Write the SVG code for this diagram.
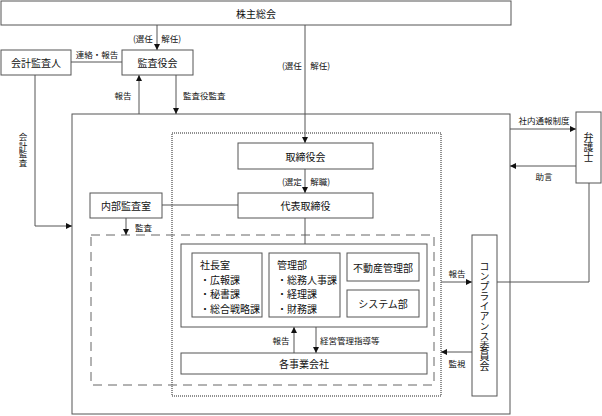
<svg xmlns="http://www.w3.org/2000/svg" width="602" height="416" viewBox="0 0 602 416">
<defs>
<marker id="ah" markerUnits="userSpaceOnUse" markerWidth="7" markerHeight="7" refX="6" refY="3" orient="auto">
<path d="M0,0 L6,3 L0,6 z" fill="#111"/>
</marker>
<style>
.box{fill:#fff;stroke:#555;stroke-width:1}
.frame{fill:none;stroke:#555;stroke-width:1}
.dot{fill:none;stroke:#222;stroke-width:1;stroke-dasharray:1 1}
.dash{fill:none;stroke:#666;stroke-width:1;stroke-dasharray:9 6}
.ln{fill:none;stroke:#555;stroke-width:1}
.arr{fill:none;stroke:#555;stroke-width:1;marker-end:url(#ah)}
text{font-family:"Noto Sans CJK JP","Noto Sans CJK SC",sans-serif;fill:#111}
.t{font-size:10px;text-anchor:middle;dominant-baseline:central}
.tl{font-size:10px;dominant-baseline:central}
.lb{font-size:8.5px;dominant-baseline:central}
.lbm{font-size:8.5px;text-anchor:middle;dominant-baseline:central}
.v{writing-mode:vertical-rl;text-anchor:middle}
</style>
</defs>
<rect width="602" height="416" fill="#fff"/>
<g id="frames">
<rect class="frame" x="72" y="114" width="438" height="300"/>
<rect class="dot" x="172" y="133" width="269" height="263"/>
<rect class="dash" x="91" y="235" width="343" height="150"/>
</g>
<g id="connectors">
<path class="arr" d="M157,25 V50"/>
<path class="arr" d="M305,25 V143"/>
<path class="ln" d="M71,62 H122"/>
<path class="arr" d="M35,75 V226 H72"/>
<path class="arr" d="M139,114 V75"/>
<path class="arr" d="M176,75 V114"/>
<path class="arr" d="M305,169 V193"/>
<path class="ln" d="M162,205 H238"/>
<path class="arr" d="M126,218 V235"/>
<path class="ln" d="M305,218 V244"/>
<path class="arr" d="M294,353 V327"/>
<path class="arr" d="M316,327 V353"/>
<path class="arr" d="M441,282 H472"/>
<path class="arr" d="M472,352 H441"/>
<path class="ln" d="M497,282 H589 V183"/>
<path class="arr" d="M510,129 H576"/>
<path class="arr" d="M576,166 H510"/>
</g>
<g id="labels">
<text class="lbm" x="157" y="38">(選任　解任)</text>
<text class="lbm" x="97" y="54">連絡・報告</text>
<text class="lbm" x="123" y="95">報告</text>
<text class="lb" x="183" y="95">監査役監査</text>
<text class="lb v" x="23" y="150">会計監査</text>
<text class="lbm" x="306" y="65">(選任　解任)</text>
<text class="lbm" x="306" y="181">(選定　解職)</text>
<text class="lb" x="135" y="227">監査</text>
<text class="lbm" x="281" y="340">報告</text>
<text class="lb" x="320" y="340">経営管理指導等</text>
<text class="lbm" x="457" y="273">報告</text>
<text class="lbm" x="457" y="363">監視</text>
<text class="lbm" x="544" y="120">社内通報制度</text>
<text class="lbm" x="544" y="176">助言</text>
</g>
<g id="n-kabunushi"><rect class="box" x="1" y="1" width="510" height="24"/><text class="t" x="256" y="13">株主総会</text></g>
<g id="n-kaikei"><rect class="box" x="1" y="50" width="70" height="25"/><text class="t" x="36" y="62.5">会計監査人</text></g>
<g id="n-kansayaku"><rect class="box" x="122" y="50" width="71" height="25"/><text class="t" x="157.5" y="62.5">監査役会</text></g>
<g id="n-torishimariyaku"><rect class="box" x="238" y="143" width="135" height="26"/><text class="t" x="305.5" y="156">取締役会</text></g>
<g id="n-daihyo"><rect class="box" x="238" y="193" width="135" height="25"/><text class="t" x="305.5" y="205.5">代表取締役</text></g>
<g id="n-naibu"><rect class="box" x="90" y="193" width="72" height="25"/><text class="t" x="126" y="205.5">内部監査室</text></g>
<g id="n-honsha"><rect class="box" x="181" y="244" width="246" height="83"/></g>
<g id="n-shacho"><rect class="box" x="192" y="253" width="70" height="64"/>
<text class="tl" x="200" y="264">社長室</text>
<text class="tl" x="200" y="279">・広報課</text>
<text class="tl" x="200" y="293">・秘書課</text>
<text class="tl" x="200" y="308">・総合戦略課</text></g>
<g id="n-kanri"><rect class="box" x="269" y="253" width="71" height="64"/>
<text class="tl" x="277" y="264">管理部</text>
<text class="tl" x="277" y="279">・総務人事課</text>
<text class="tl" x="277" y="293">・経理課</text>
<text class="tl" x="277" y="308">・財務課</text></g>
<g id="n-fudosan"><rect class="box" x="347" y="253" width="72" height="28"/><text class="t" x="383" y="267">不動産管理部</text></g>
<g id="n-system"><rect class="box" x="347" y="290" width="72" height="27"/><text class="t" x="383" y="303.5">システム部</text></g>
<g id="n-jigyo"><rect class="box" x="181" y="353" width="246" height="21"/><text class="t" x="304" y="363.5">各事業会社</text></g>
<g id="n-compliance"><rect class="box" x="472" y="235" width="25" height="161"/><text class="t v" x="484.5" y="316">コンプライアンス委員会</text></g>
<g id="n-bengoshi"><rect class="box" x="576" y="112" width="25" height="71"/><text class="t v" x="588.5" y="147">弁護士</text></g>
</svg>
